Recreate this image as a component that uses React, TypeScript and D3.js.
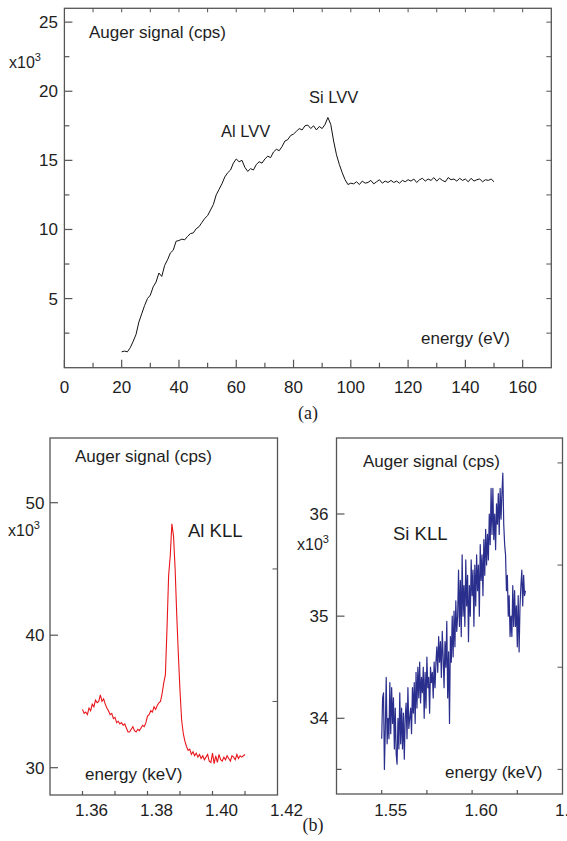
import React from "react";
import * as d3 from "d3";

// ---------- Panel (a): low-energy spectrum ----------
const TOP_E = [20,21,22,23,24,25,26,27,28,29,30,31,32,33,34,35,36,37,38,39,40,41,42,43,44,45,46,47,48,49,50,51,52,53,54,55,56,57,58,59,60,61,62,63,64,65,66,67,68,69,70,71,72,73,74,75,76,77,78,79,80,81,82,83,84,85,86,87,88,89,90,91,92,93,94,95,96,97,98,99,100,101,102,103,104,105,106,107,108,109,110,111,112,113,114,115,116,117,118,119,120,121,122,123,124,125,126,127,128,129,130,131,132,133,134,135,136,137,138,139,140,141,142,143,144,145,146,147,148,149,150];
const TOP_SIG = [1.15,1.2,1.15,1.45,1.9,2.4,3.3,3.9,4.5,5.0,5.25,5.85,6.2,6.85,6.6,7.4,7.8,8.3,8.5,9.15,9.2,9.3,9.25,9.5,9.7,9.75,10.05,10.2,10.5,10.8,11.0,11.4,11.8,12.5,12.9,13.3,13.8,14.1,14.3,14.8,15.1,14.9,15.0,14.5,14.2,14.4,14.3,14.7,14.9,14.8,15.1,15.3,15.2,15.6,15.8,15.7,16.0,16.4,16.5,16.8,16.9,17.1,17.3,17.2,17.5,17.55,17.3,17.5,17.2,17.45,17.3,17.6,18.1,17.6,16.4,15.4,14.7,14.1,13.6,13.25,13.35,
13.3,13.45,13.25,13.5,13.35,13.4,13.55,13.3,13.45,13.6,
13.35,13.5,13.4,13.55,13.4,13.5,13.35,13.55,13.45,13.6,
13.5,13.65,13.4,13.6,13.7,13.5,13.65,13.55,13.75,13.5,
13.7,13.55,13.45,13.75,13.6,13.65,13.5,13.7,13.55,13.65,
13.45,13.7,13.5,13.6,13.65,13.45,13.6,13.55,13.65,13.45];
const TOP_X_MAJOR = [0,20,40,60,80,100,120,140,160];
const TOP_X_MINOR = [10,30,50,70,90,110,130,150];
const TOP_X_TOP = [10,20,30,40,50,60,70,80,90,100,110,120,130,140,150,160];
const TOP_Y_MAJOR = [5,10,15,20,25];
const TOP_Y_MINOR = [2.5,7.5,12.5,17.5,22.5];

// ---------- Panel (b) left: Al KLL ----------
const AL_E = [1.3600,1.3605,1.3610,1.3615,1.3620,1.3625,1.3630,1.3635,1.3640,1.3645,1.3650,1.3655,1.3660,1.3665,1.3670,1.3675,1.3680,1.3685,1.3690,1.3695,1.3700,1.3705,1.3710,1.3715,1.3720,1.3725,1.3730,1.3735,1.3740,1.3745,1.3750,1.3755,1.3760,1.3765,1.3770,1.3775,1.3780,1.3785,1.3790,1.3795,1.3800,1.3805,1.3810,1.3815,1.3820,1.3825,1.3830,1.3835,1.3840,1.3845,1.3850,1.3855,1.3860,1.3865,1.3870,1.3875,1.3880,1.3885,1.3890,1.3895,1.3900,1.3905,1.3910,1.3915,1.3920,1.3925,1.3930,1.3935,1.3940,1.3945,1.3950,1.3955,1.3960,1.3965,1.3970,1.3975,1.3980,1.3985,1.3990,1.3995,1.4000,1.4005,1.4010,1.4015,1.4020,1.4025,1.4030,1.4035,1.4040,1.4045,1.4050,1.4055,1.4060,1.4065,1.4070,1.4075,1.4080,1.4085,1.4090,1.4095,1.4100];
const AL_SIG = [34.4,34.1,34.2,34.0,34.5,34.3,34.8,34.6,35.1,34.9,35.0,35.5,35.0,35.2,34.8,34.5,34.3,34.0,34.1,33.7,33.8,33.4,33.5,33.3,33.4,33.2,33.3,33.0,32.7,32.7,32.9,33.1,32.8,32.7,32.9,32.8,33.0,33.2,33.1,33.4,33.9,34.0,34.3,34.2,34.6,34.4,34.7,34.9,35.0,35.6,36.4,37.0,40.5,44.5,46.0,48.4,47.5,45.0,41.5,38.5,35.8,33.6,32.6,32.0,31.6,31.3,31.4,31.0,31.2,30.9,31.1,
30.8,31.0,30.7,30.9,30.6,30.8,31.0,30.5,30.4,31.1,30.3,30.9,30.4,31.0,30.6,30.5,30.8,30.6,30.9,30.7,30.5,30.9,30.8,30.6,31.0,30.7,30.9,30.8,30.9,31.0];
const AL_X_TICKS = [1.36,1.37,1.38,1.39,1.40,1.41];
const AL_X_LABELS = ["1.36","1.38","1.40","1.42"];
const AL_Y_MAJOR = [30,40,50];
const AL_Y_RIGHT = [35,45];

// ---------- Panel (b) right: Si KLL ----------
const SI_E = [1.5500,1.5505,1.5510,1.5515,1.5520,1.5525,1.5530,1.5535,1.5540,1.5545,1.5550,1.5555,1.5560,1.5565,1.5570,1.5575,1.5580,1.5585,1.5590,1.5595,1.5600,1.5605,1.5610,1.5615,1.5620,1.5625,1.5630,1.5635,1.5640,1.5645,1.5650,1.5655,1.5660,1.5665,1.5670,1.5675,1.5680,1.5685,1.5690,1.5695,1.5700,1.5705,1.5710,1.5715,1.5720,1.5725,1.5730,1.5735,1.5740,1.5745,1.5750,1.5755,1.5760,1.5765,1.5770,1.5775,1.5780,1.5785,1.5790,1.5795,1.5800,1.5805,1.5810,1.5815,1.5820,1.5825,1.5830,1.5835,1.5840,1.5845,1.5850,1.5855,1.5860,1.5865,1.5870,1.5875,1.5880,1.5885,1.5890,1.5895,1.5900,1.5905,1.5910,1.5915,1.5920,1.5925,1.5930,1.5935,1.5940,1.5945,1.5950,1.5955,1.5960,1.5965,1.5970,1.5975,1.5980,1.5985,1.5990,1.5995,1.6000,1.6005,1.6010,1.6015,1.6020,1.6025,1.6030,1.6035,1.6040,1.6045,1.6050,1.6055,1.6060,1.6065,1.6070,1.6075,1.6080,1.6085,1.6090,1.6095,1.6100,1.6105,1.6110,1.6115,1.6120,1.6125,1.6130,1.6135,1.6140,1.6145,1.6150,1.6155,1.6160,1.6165,1.6170,1.6175,1.6180,1.6185,1.6190,1.6195,1.6200,1.6205,1.6210,1.6215,1.6220,1.6225,1.6230,1.6235,1.6240,1.6245,1.6250,1.6255,1.6260,1.6265,1.6270,1.6275,1.6280,1.6285,1.6290,1.6295];
const SI_SIG = [33.8,34.2,34.25,33.5,33.9,34.4,33.75,34.0,33.8,34.35,33.85,34.3,33.95,34.2,33.7,34.1,33.65,33.55,34.0,33.7,
34.25,33.75,34.1,33.7,34.05,33.6,34.0,34.15,33.8,34.3,33.9,34.0,34.1,33.85,34.3,34.05,34.35,33.95,34.45,34.1,
34.5,34.2,34.55,34.15,34.4,34.25,34.5,34.0,34.45,34.1,34.6,34.3,34.4,34.05,34.5,34.35,34.45,34.2,34.55,34.3,
34.55,34.7,34.45,34.8,34.55,34.75,34.4,34.85,34.6,34.3,34.75,34.5,34.95,34.2,34.65,33.95,34.8,34.55,35.0,34.6,
35.05,34.7,35.15,34.85,35.0,35.45,34.9,35.35,34.8,35.6,35.0,35.3,34.9,35.55,35.1,35.4,34.75,35.3,35.0,35.55,
35.2,35.45,34.9,35.5,35.1,35.6,35.25,35.5,35.0,35.7,35.35,35.6,35.2,35.75,35.4,35.85,35.5,35.8,35.55,36.0,
35.7,36.25,35.8,36.25,35.75,36.0,35.65,36.1,35.9,36.2,35.8,36.25,35.95,36.2,36.4,35.9,35.7,35.6,35.25,35.4,
35.0,35.2,34.8,35.0,34.8,35.3,34.9,35.25,34.9,35.1,34.7,35.2,34.65,35.1,35.3,35.45,35.1,35.4,35.2,35.25];
const SI_X_TICKS = [1.55,1.575,1.60,1.625];
const SI_X_LABELS = ["1.55","1.60","1.65"];
const SI_Y_MAJOR = [34,35,36];
const SI_Y_LEFT_MINOR = [33.5];
const SI_Y_RIGHT = [33.5,34.5,35.5,36.5];

const FONT = "'Liberation Sans', Arial, sans-serif";
const SERIF = "'Liberation Serif', 'Times New Roman', serif";
const FRAME = "#555555";
const TXT = "#1e1e1e";

function X10({ x, y }: { x: number; y: number }) {
  return (
    <text x={x} y={y} fontFamily={FONT} fontSize={16} fill={TXT}>
      x10<tspan dy={-7} fontSize={11}>3</tspan>
    </text>
  );
}

export default function App() {
  // panel (a)
  const ax = d3.scaleLinear().domain([0, 170]).range([64.4, 551.3]);
  const ay = d3.scaleLinear().domain([0, 26]).range([367.7, 8.3]);
  const aLine = d3.line<number>().x((_, i) => ax(TOP_E[i])).y((d) => ay(d));

  // panel (b) left
  const bx = d3.scaleLinear().domain([1.35, 1.42]).range([50, 277.5]);
  const by = d3.scaleLinear().domain([30, 50]).range([767.7, 502.7]);
  const bLine = d3.line<number>().x((_, i) => bx(AL_E[i])).y((d) => by(d));

  // panel (b) right
  const cx = d3.scaleLinear().domain([1.525, 1.65]).range([336.5, 562.5]);
  const cy = d3.scaleLinear().domain([34, 36]).range([718.3, 514]);
  const cLine = d3.line<number>().x((_, i) => cx(SI_E[i])).y((d) => cy(d));

  const aL = ax.range()[0], aR = ax.range()[1], aT = ay.range()[1], aB = ay.range()[0];
  const bL = 50, bR = 277.5, bT = 438, bB = 795;
  const cL = 336.5, cR = 562.5, cT = 438, cB = 794;

  return (
    <svg width={567} height={841} style={{ position: "absolute", left: 0, top: 0, background: "#fff" }}>
      {/* ===== Panel (a) ===== */}
      <g>
        <rect x={aL} y={aT} width={aR - aL} height={aB - aT} fill="none" stroke={FRAME} strokeWidth={1.3} />
        {TOP_X_MAJOR.map((v) => (
          <g key={"axm" + v}>
            <line x1={ax(v)} x2={ax(v)} y1={aB} y2={aB - 8} stroke={FRAME} strokeWidth={1.2} />
            <text x={ax(v)} y={392.5} textAnchor="middle" fontFamily={FONT} fontSize={17} fill={TXT}>{v}</text>
          </g>
        ))}
        {TOP_X_MINOR.map((v) => (
          <line key={"axn" + v} x1={ax(v)} x2={ax(v)} y1={aB} y2={aB - 5} stroke={FRAME} strokeWidth={1.2} />
        ))}
        {TOP_X_TOP.map((v) => (
          <line key={"axt" + v} x1={ax(v)} x2={ax(v)} y1={aT} y2={aT + 4} stroke={FRAME} strokeWidth={1} />
        ))}
        {TOP_Y_MAJOR.map((v) => (
          <g key={"aym" + v}>
            <line x1={aL} x2={aL + 8} y1={ay(v)} y2={ay(v)} stroke={FRAME} strokeWidth={1.2} />
            <line x1={aR} x2={aR - 5} y1={ay(v)} y2={ay(v)} stroke={FRAME} strokeWidth={1} />
            <text x={58} y={ay(v) + 6} textAnchor="end" fontFamily={FONT} fontSize={17} fill={TXT}>{v}</text>
          </g>
        ))}
        {TOP_Y_MINOR.map((v) => (
          <g key={"ayn" + v}>
            <line x1={aL} x2={aL + 5} y1={ay(v)} y2={ay(v)} stroke={FRAME} strokeWidth={1.2} />
            <line x1={aR} x2={aR - 5} y1={ay(v)} y2={ay(v)} stroke={FRAME} strokeWidth={1} />
          </g>
        ))}
        <path d={aLine(TOP_SIG) || ""} fill="none" stroke="#111" strokeWidth={1} />
        <text x={89} y={37.5} fontFamily={FONT} fontSize={17} fill={TXT}>Auger signal (cps)</text>
        <X10 x={9} y={68} />
        <text x={309} y={103} fontFamily={FONT} fontSize={16.5} fill={TXT}>Si LVV</text>
        <text x={221} y={136.5} fontFamily={FONT} fontSize={16.5} fill={TXT}>Al LVV</text>
        <text x={421} y={344} fontFamily={FONT} fontSize={17} fill={TXT}>energy (eV)</text>
        <text x={308} y={419} textAnchor="middle" fontFamily={SERIF} fontSize={18} fill={TXT}>(a)</text>
      </g>

      {/* ===== Panel (b) left ===== */}
      <g>
        <rect x={bL} y={bT} width={bR - bL} height={bB - bT} fill="none" stroke={FRAME} strokeWidth={1.3} />
        {AL_X_TICKS.map((v) => (
          <line key={"bxt" + v} x1={bx(v)} x2={bx(v)} y1={bB} y2={bB - 4} stroke={FRAME} strokeWidth={1.2} />
        ))}
        {AL_X_LABELS.map((s) => (
          <text key={"bxl" + s} x={bx(+s) + 9} y={816} textAnchor="middle" fontFamily={FONT} fontSize={17} fill={TXT}>{s}</text>
        ))}
        {AL_Y_MAJOR.map((v) => (
          <g key={"bym" + v}>
            <line x1={bL} x2={bL + 8} y1={by(v)} y2={by(v)} stroke={FRAME} strokeWidth={1.2} />
            <text x={44.5} y={by(v) + 6} textAnchor="end" fontFamily={FONT} fontSize={17} fill={TXT}>{v}</text>
          </g>
        ))}
        {AL_Y_RIGHT.map((v) => (
          <line key={"byr" + v} x1={bR} x2={bR - 5} y1={by(v)} y2={by(v)} stroke={FRAME} strokeWidth={1} />
        ))}
        <path d={bLine(AL_SIG) || ""} fill="none" stroke="#e8161b" strokeWidth={1.1} />
        <text x={75} y={461.5} fontFamily={FONT} fontSize={17} fill={TXT}>Auger signal (cps)</text>
        <X10 x={8} y={536} />
        <text x={188} y={537} fontFamily={FONT} fontSize={18.5} fill={TXT}>Al KLL</text>
        <text x={85} y={780} fontFamily={FONT} fontSize={17} fill={TXT}>energy (keV)</text>
      </g>

      {/* ===== Panel (b) right ===== */}
      <g>
        <rect x={cL} y={cT} width={cR - cL} height={cB - cT} fill="none" stroke={FRAME} strokeWidth={1.3} />
        {SI_X_TICKS.map((v) => (
          <line key={"cxt" + v} x1={cx(v)} x2={cx(v)} y1={cB} y2={cB - 4} stroke={FRAME} strokeWidth={1.2} />
        ))}
        {SI_X_LABELS.map((s) => (
          <text key={"cxl" + s} x={cx(+s) + 9} y={816} textAnchor="middle" fontFamily={FONT} fontSize={17} fill={TXT}>{s}</text>
        ))}
        {SI_Y_MAJOR.map((v) => (
          <g key={"cym" + v}>
            <line x1={cL} x2={cL + 8} y1={cy(v)} y2={cy(v)} stroke={FRAME} strokeWidth={1.2} />
            <text x={328.5} y={cy(v) + 6} textAnchor="end" fontFamily={FONT} fontSize={17} fill={TXT}>{v}</text>
          </g>
        ))}
        {SI_Y_LEFT_MINOR.map((v) => (
          <line key={"cyl" + v} x1={cL} x2={cL + 5} y1={cy(v)} y2={cy(v)} stroke={FRAME} strokeWidth={1.2} />
        ))}
        {SI_Y_RIGHT.map((v) => (
          <line key={"cyr" + v} x1={cR} x2={cR - 5} y1={cy(v)} y2={cy(v)} stroke={FRAME} strokeWidth={1} />
        ))}
        <path d={cLine(SI_SIG) || ""} fill="none" stroke="#2a2e8c" strokeWidth={1.2} strokeLinejoin="round" />
        <text x={363} y={466.5} fontFamily={FONT} fontSize={17} fill={TXT}>Auger signal (cps)</text>
        <X10 x={297} y={550} />
        <text x={393} y={540} fontFamily={FONT} fontSize={18.5} fill={TXT}>Si KLL</text>
        <text x={445} y={778} fontFamily={FONT} fontSize={17} fill={TXT}>energy (keV)</text>
        <text x={313} y={831} textAnchor="middle" fontFamily={SERIF} fontSize={18} fill={TXT}>(b)</text>
      </g>
    </svg>
  );
}
